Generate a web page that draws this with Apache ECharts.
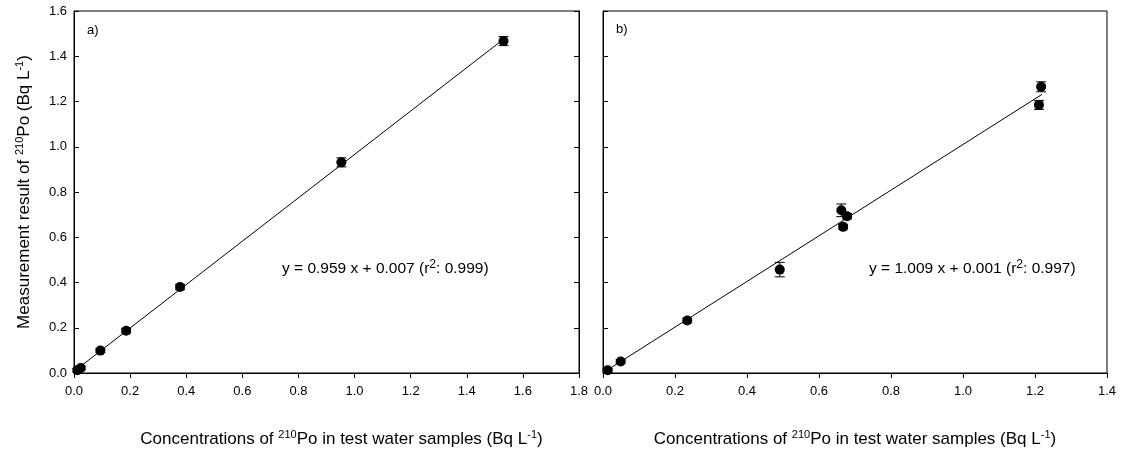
<!DOCTYPE html>
<html>
<head>
<meta charset="utf-8">
<script src="https://cdn.jsdelivr.net/npm/echarts@6/dist/echarts.min.js"></script>
<style>
  html, body { margin: 0; padding: 0; background: #fff; }
  #chart { width: 1121px; height: 455px; }
</style>
</head>
<body>
<div id="chart"></div>
<script>
// panel a)
var xA = [0.012, 0.024, 0.094, 0.186, 0.378, 0.953, 1.531];
var yA = [0.012, 0.022, 0.099, 0.187, 0.380, 0.931, 1.467];
var errA = [0.008, 0.008, 0.008, 0.01, 0.012, 0.02, 0.02];
var fitA = { slope: 0.959, intercept: 0.007, from: 0.01, to: 1.531 };

// panel b)
var xB = [0.013, 0.049, 0.234, 0.491, 0.662, 0.678, 0.667, 1.217, 1.211];
var yB = [0.012, 0.051, 0.232, 0.457, 0.719, 0.693, 0.646, 1.265, 1.185];
var errB = [0.008, 0.008, 0.01, 0.032, 0.028, 0.012, 0.01, 0.022, 0.02];
var fitB = { slope: 1.009, intercept: 0.001, from: 0.013, to: 1.22 };

var font = 'Liberation Sans, Arial, sans-serif';

function pairs(xs, ys) {
  return xs.map(function (x, i) { return [x, ys[i]]; });
}
function errData(xs, ys, es) {
  return xs.map(function (x, i) { return [x, ys[i] - es[i], ys[i] + es[i]]; });
}
function fitLine(f) {
  return [f.from, f.to].map(function (x) { return [x, f.slope * x + f.intercept]; });
}

function renderErr(params, api) {
  var lo = api.coord([api.value(0), api.value(1)]);
  var hi = api.coord([api.value(0), api.value(2)]);
  var w = 5;
  var st = { stroke: '#000', lineWidth: 1 };
  return {
    type: 'group',
    children: [
      { type: 'line', shape: { x1: lo[0], y1: lo[1], x2: hi[0], y2: hi[1] }, style: st },
      { type: 'line', shape: { x1: lo[0] - w, y1: lo[1], x2: lo[0] + w, y2: lo[1] }, style: st },
      { type: 'line', shape: { x1: hi[0] - w, y1: hi[1], x2: hi[0] + w, y2: hi[1] }, style: st }
    ]
  };
}

var supRich = {
  n: { fontSize: 17, fontFamily: font, color: '#000', lineHeight: 20 },
  s: { fontSize: 11, fontFamily: font, color: '#000', verticalAlign: 'top', lineHeight: 20, padding: [0, 0, 8, 0] }
};
var xName = '{n|Concentrations of }{s|210}{n|Po in test water samples (Bq L}{s|-1}{n|)}';
var yName = '{n|Measurement result of }{s|210}{n|Po (Bq L}{s|-1}{n|)}';

function xAxisCfg(idx, max, shift) {
  return {
    type: 'value', gridIndex: idx, min: 0, max: max, interval: 0.2,
    name: xName, nameLocation: 'middle', nameGap: 56,
    nameTextStyle: { rich: supRich, padding: [0, 0, 0, shift] },
    axisLine: { lineStyle: { color: '#000', width: 1 } },
    axisTick: { inside: false, length: 5, lineStyle: { color: '#000' } },
    axisLabel: { color: '#000', fontSize: 13, fontFamily: font, margin: 12,
      formatter: function (v) { return v.toFixed(1); } },
    splitLine: { show: false }
  };
}

function yAxisCfg(idx, pos, showLabel, showName) {
  return {
    type: 'value', gridIndex: idx, position: pos, min: 0, max: 1.6, interval: 0.2,
    name: showName ? yName : '', nameLocation: 'middle', nameGap: 40, nameRotate: 90,
    nameTextStyle: { rich: supRich },
    axisLine: { show: true, lineStyle: { color: '#000', width: 1 } },
    axisTick: { show: true, inside: true, length: 5, lineStyle: { color: '#000' } },
    axisLabel: { show: showLabel, color: '#000', fontSize: 13, fontFamily: font, margin: 7,
      formatter: function (v) { return v.toFixed(1); } },
    splitLine: { show: false }
  };
}

var eqRich = {
  n: { fontSize: 15.5, fontFamily: font, fill: '#000', lineHeight: 20 },
  s: { fontSize: 12, fontFamily: font, fill: '#000', verticalAlign: 'top', lineHeight: 20, padding: [0, 0, 6, 0] }
};

var option = {
  animation: false,
  backgroundColor: '#fff',
  grid: [
    { left: 74, top: 11, width: 505, height: 362, show: true, borderColor: '#000', borderWidth: 1, backgroundColor: 'transparent' },
    { left: 603, top: 11, width: 504, height: 362, show: true, borderColor: '#000', borderWidth: 1, backgroundColor: 'transparent' }
  ],
  xAxis: [xAxisCfg(0, 1.8, 30), xAxisCfg(1, 1.4, 0)],
  yAxis: [
    yAxisCfg(0, 'left', true, true),
    yAxisCfg(0, 'right', false, false),
    yAxisCfg(1, 'left', false, false)
  ],
  graphic: [
    { type: 'text', left: 87, top: 24, style: { text: 'a)', fontSize: 13, fontFamily: font, fill: '#000' } },
    { type: 'text', left: 616, top: 23, style: { text: 'b)', fontSize: 13, fontFamily: font, fill: '#000' } },
    { type: 'text', left: 282, top: 259, style: { text: '{n|y = 0.959 x + 0.007 (r}{s|2}{n|: 0.999)}', rich: eqRich } },
    { type: 'text', left: 869, top: 259, style: { text: '{n|y = 1.009 x + 0.001 (r}{s|2}{n|: 0.997)}', rich: eqRich } }
  ],
  series: [
    { type: 'line', xAxisIndex: 0, yAxisIndex: 0, data: fitLine(fitA), symbol: 'none',
      lineStyle: { color: '#000', width: 1 }, z: 2 },
    { type: 'custom', xAxisIndex: 0, yAxisIndex: 0, data: errData(xA, yA, errA), renderItem: renderErr, z: 3 },
    { type: 'scatter', xAxisIndex: 0, yAxisIndex: 0, data: pairs(xA, yA), symbol: 'circle', symbolSize: 10,
      itemStyle: { color: '#000', opacity: 1 }, z: 4 },
    { type: 'line', xAxisIndex: 1, yAxisIndex: 2, data: fitLine(fitB), symbol: 'none',
      lineStyle: { color: '#000', width: 1 }, z: 2 },
    { type: 'custom', xAxisIndex: 1, yAxisIndex: 2, data: errData(xB, yB, errB), renderItem: renderErr, z: 3 },
    { type: 'scatter', xAxisIndex: 1, yAxisIndex: 2, data: pairs(xB, yB), symbol: 'circle', symbolSize: 10,
      itemStyle: { color: '#000', opacity: 1 }, z: 4 }
  ]
};

var myChart = echarts.init(document.getElementById('chart'), null, { renderer: 'canvas' });
myChart.setOption(option);
</script>
</body>
</html>
